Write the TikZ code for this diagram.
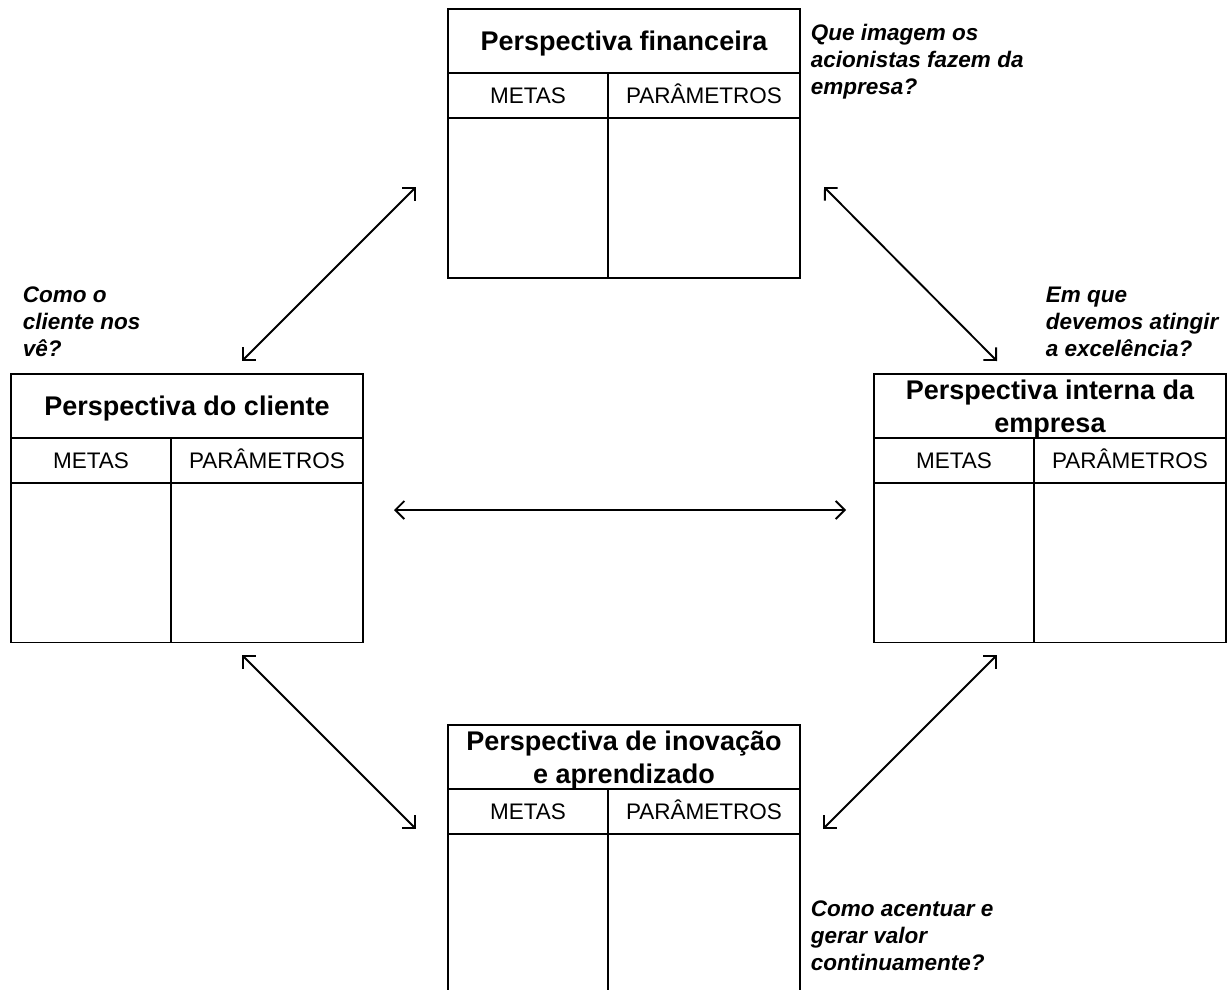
\documentclass[tikz,border=0pt]{standalone}
\usepackage{fontspec}
\setmainfont{Liberation Sans}
\usetikzlibrary{arrows.meta}
\begin{document}
\begin{tikzpicture}[x=1pt,y=-1pt,line width=1.9pt,>={Straight Barb[length=9pt,width=18pt]},
  title/.style={draw,minimum width=352pt,minimum height=64pt,inner sep=0pt,text depth=0pt,align=center,font=\fontsize{27}{32.5}\selectfont\bfseries},
  headL/.style={draw,minimum width=160pt,minimum height=45pt,inner sep=0pt,text height=16pt,text depth=0pt,font=\fontsize{22.5}{27}\selectfont},
  headR/.style={headL,minimum width=192pt},
  cellL/.style={draw,minimum width=160pt,minimum height=160pt,inner sep=0pt},
  cellR/.style={cellL,minimum width=192pt},
  ask/.style={anchor=north west,inner sep=0pt,align=left,font=\fontsize{22.5}{27}\selectfont\bfseries\itshape}]
    \clip (0,0) rectangle (1227,990);

    % financeira
    \node (F) at (624,41) [title] {Perspectiva financeira};
    \node (FM) at (528,95.5) [headL] {METAS};
    \node (FP) at (704,95.5) [headR] {PARÂMETROS};
    \node (FMb) at (528,198) [cellL] {};
    \node (FPb) at (704,198) [cellR] {};
    \node (QF) at (810,23) [ask] {Que imagem os\\acionistas fazem da\\empresa?};

    % cliente
    \node (C) at (187,406) [title] {Perspectiva do cliente};
    \node (CM) at (91,460.5) [headL] {METAS};
    \node (CP) at (267,460.5) [headR] {PARÂMETROS};
    \node (CMb) at (91,562.5) [cellL] {};
    \node (CPb) at (267,562.5) [cellR] {};
    \node (QC) at (22,285.5) [ask] {Como o\\cliente nos\\vê?};

    % interna
    \node (I) at (1050,406) [title] {Perspectiva interna da\\empresa};
    \node (IM) at (954,460.5) [headL] {METAS};
    \node (IP) at (1130,460.5) [headR] {PARÂMETROS};
    \node (IMb) at (954,562.5) [cellL] {};
    \node (IPb) at (1130,562.5) [cellR] {};
    \node (QI) at (1045,286) [ask] {Em que\\devemos atingir\\a excelência?};

    % inovacao
    \node (A) at (624,757) [title] {Perspectiva de inovação\\e aprendizado};
    \node (AM) at (528,811.5) [headL] {METAS};
    \node (AP) at (704,811.5) [headR] {PARÂMETROS};
    \node (AMb) at (528,914) [cellL] {};
    \node (APb) at (704,914) [cellR] {};
    \node (QA) at (810,899.5) [ask] {Como acentuar e\\gerar valor\\continuamente?};

    \coordinate (fc1) at (416,187);
    \coordinate (fc2) at (242,361);
    \coordinate (fi1) at (824,187);
    \coordinate (fi2) at (997,361);
    \coordinate (ci1) at (394,510);
    \coordinate (ci2) at (846,510);
    \coordinate (ca1) at (242,655);
    \coordinate (ca2) at (416,829);
    \coordinate (ia1) at (997,655);
    \coordinate (ia2) at (823,829);
    \draw [<->] (fc1) -- (fc2);
    \draw [<->] (fi1) -- (fi2);
    \draw [<->] (ci1) -- (ci2);
    \draw [<->] (ca1) -- (ca2);
    \draw [<->] (ia1) -- (ia2);
\end{tikzpicture}
\end{document}
